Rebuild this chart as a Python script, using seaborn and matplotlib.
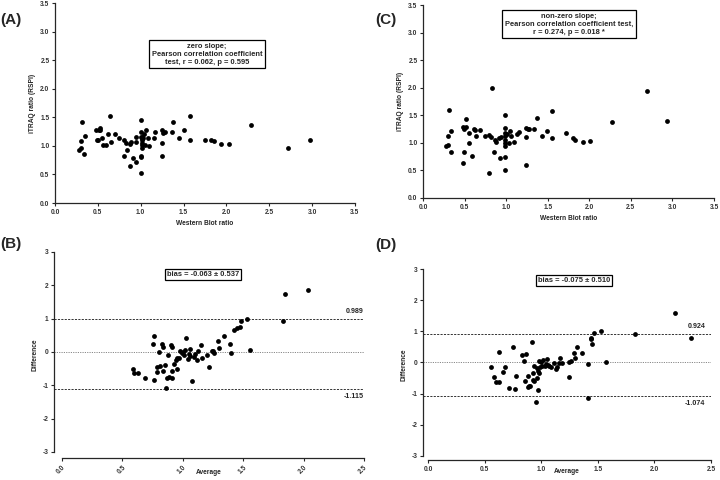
import matplotlib
matplotlib.use("Agg")
import matplotlib.pyplot as plt
import seaborn as sns
import pandas as pd

# ---------------- data ----------------
# Panel A: Western Blot ratio vs iTRAQ ratio (RSPI)
wb_a = [0.28, 0.30, 0.30, 0.31, 0.34, 0.35, 0.48, 0.49, 0.50, 0.51, 0.52, 0.53,
        0.55, 0.56, 0.60, 0.62, 0.64, 0.65, 0.70, 0.75, 0.80, 0.81, 0.83, 0.84,
        0.87, 0.88, 0.89, 0.91, 0.94, 0.94, 0.95, 1.00, 1.00, 1.00, 1.01, 1.01,
        1.01, 1.01, 1.01, 1.00, 1.00, 1.00, 1.02, 1.03, 1.04, 1.05, 1.06, 1.09,
        1.10, 1.15, 1.17, 1.25, 1.25, 1.25, 1.26, 1.28, 1.36, 1.38, 1.45, 1.51,
        1.57, 1.57, 1.75, 1.82, 1.85, 1.94, 2.03, 2.29, 2.72, 2.98]
itraq_a = [0.92, 0.96, 1.08, 1.41, 0.86, 1.18, 1.27, 1.11, 1.10, 1.27, 1.31, 1.27,
           1.14, 1.02, 1.02, 1.21, 1.52, 1.07, 1.21, 1.13, 0.82, 1.10, 1.05, 0.93,
           0.64, 1.04, 1.07, 0.78, 0.71, 1.15, 1.07, 1.45, 1.24, 1.16, 1.13, 1.10,
           1.05, 1.01, 0.97, 0.83, 0.81, 0.53, 1.16, 1.13, 1.21, 1.02, 1.27, 1.13,
           1.00, 1.13, 1.24, 1.27, 1.05, 0.83, 1.22, 1.24, 1.24, 1.42, 1.14, 1.27,
           1.53, 1.11, 1.10, 1.10, 1.09, 1.03, 1.03, 1.37, 0.97, 1.11]

# Panel C: Western Blot ratio vs iTRAQ ratio (RSPI)
wb_c = [0.28, 0.30, 0.30, 0.31, 0.34, 0.34, 0.48, 0.48, 0.49, 0.49, 0.52, 0.52,
        0.55, 0.55, 0.59, 0.61, 0.63, 0.64, 0.69, 0.75, 0.79, 0.79, 0.82, 0.83,
        0.85, 0.87, 0.88, 0.91, 0.93, 0.94, 0.99, 0.99, 0.99, 0.99, 0.99, 0.99,
        0.99, 0.99, 0.99, 1.01, 1.04, 1.05, 1.06, 1.09, 1.13, 1.16, 1.24, 1.24,
        1.24, 1.26, 1.28, 1.34, 1.37, 1.43, 1.49, 1.55, 1.55, 1.72, 1.80, 1.83,
        1.92, 2.01, 2.27, 2.69, 2.94]
itraq_c = [0.94, 0.97, 1.13, 1.60, 1.21, 0.83, 1.29, 0.63, 1.26, 0.83, 1.44, 1.29,
           1.18, 1.00, 0.77, 1.25, 1.23, 1.12, 1.23, 1.12, 1.15, 0.45, 1.10, 1.99,
           0.83, 1.06, 1.01, 1.09, 0.72, 1.10, 1.51, 1.27, 1.18, 1.12, 1.06, 1.00,
           0.95, 0.75, 0.50, 1.16, 1.00, 1.21, 1.13, 1.02, 1.16, 1.19, 1.27, 1.10,
           0.60, 1.25, 1.25, 1.25, 1.45, 1.13, 1.22, 1.57, 1.09, 1.18, 1.09, 1.05,
           1.01, 1.04, 1.38, 1.94, 1.40]

# Panel B: Bland-Altman (Average vs Difference)
avg_b = [0.59, 0.60, 0.63, 0.69, 0.75, 0.76, 0.76, 0.79, 0.79, 0.80, 0.81, 0.83,
         0.84, 0.84, 0.85, 0.86, 0.87, 0.88, 0.89, 0.90, 0.91, 0.91, 0.91, 0.93,
         0.94, 0.95, 0.95, 0.97, 0.98, 0.99, 1.00, 1.01, 1.02, 1.03, 1.04, 1.05,
         1.06, 1.06, 1.08, 1.09, 1.10, 1.12, 1.13, 1.15, 1.16, 1.20, 1.22, 1.24,
         1.25, 1.26, 1.29, 1.30, 1.34, 1.39, 1.40, 1.42, 1.45, 1.47, 1.48, 1.53,
         1.56, 1.83, 1.85, 2.04]
diff_b = [-0.50, -0.64, -0.64, -0.77, 0.23, 0.47, -0.83, -0.45, -0.61, -0.01, -0.43, 0.24,
          0.14, -0.57, -0.40, -1.08, -0.78, -0.08, -0.75, 0.20, 0.15, -0.58, -0.78, -0.36,
          -0.25, -0.19, -0.50, -0.17, 0.03, -0.02, 0.01, -0.09, 0.05, 0.43, -0.20, -0.07,
          0.09, -0.13, -0.88, -0.14, -0.05, -0.23, 0.02, 0.20, -0.19, -0.08, -0.44, 0.02,
          0.04, -0.03, 0.32, 0.12, 0.47, 0.25, -0.04, 0.65, 0.72, 0.76, 0.92, 1.00,
          0.05, 0.93, 1.75, 1.87]
limits_b = [0.989, -1.115]
bias_text_b = "bias = -0.063 \u00b1 0.537"

# Panel D: Bland-Altman (Average vs Difference)
avg_d = [0.56, 0.58, 0.60, 0.63, 0.63, 0.66, 0.68, 0.72, 0.75, 0.77, 0.78, 0.83,
         0.85, 0.86, 0.87, 0.88, 0.88, 0.89, 0.90, 0.92, 0.93, 0.93, 0.94, 0.94,
         0.95, 0.96, 0.96, 0.97, 0.98, 0.97, 0.98, 0.99, 1.00, 1.01, 1.02, 1.03,
         1.04, 1.05, 1.06, 1.07, 1.09, 1.11, 1.13, 1.14, 1.16, 1.17, 1.18, 1.25,
         1.25, 1.26, 1.29, 1.30, 1.32, 1.36, 1.41, 1.41, 1.44, 1.44, 1.45, 1.47,
         1.53, 1.57, 1.83, 2.18, 2.32]
diff_d = [-0.14, -0.48, -0.64, -0.64, 0.35, -0.32, -0.16, -0.81, 0.50, -0.85, -0.43, 0.24,
          0.05, -0.61, 0.27, -0.44, -0.78, -0.76, -0.74, 0.66, -0.57, -0.35, -0.60, -0.11,
          -1.26, -0.18, -0.50, -0.27, -0.33, -0.89, 0.04, -0.14, 0.02, -0.12, 0.08, -0.11,
          -0.05, 0.11, -0.08, -0.10, -0.16, -0.03, -0.21, -0.13, -0.02, 0.15, -0.01, 0.01,
          -0.48, 0.05, 0.32, 0.13, 0.50, 0.30, -0.04, -1.13, 0.74, 0.79, 0.58, 0.94,
          1.00, 0.02, 0.92, 1.59, 0.79]
limits_d = [0.924, -1.074]
bias_text_d = "bias = -0.075 \u00b1 0.510"

text_a = "zero slope;\nPearson correlation coefficient\ntest, r = 0.062, p = 0.595"
text_c = "non-zero slope;\nPearson correlation coefficient test,\nr = 0.274, p = 0.018 *"

scatter_ticks = [0.0, 0.5, 1.0, 1.5, 2.0, 2.5, 3.0, 3.5]
ba_xticks = [0.0, 0.5, 1.0, 1.5, 2.0, 2.5]
ba_yticks = [-3, -2, -1, 0, 1, 2, 3]

# ---------------- style ----------------
sns.set_style("ticks")
plt.rcParams["font.family"] = ["Liberation Sans", "DejaVu Sans"]
plt.rcParams["font.weight"] = "bold"
plt.rcParams["axes.linewidth"] = 0.9
plt.rcParams["xtick.major.size"] = 2.5
plt.rcParams["ytick.major.size"] = 2.5
plt.rcParams["xtick.major.width"] = 0.8
plt.rcParams["ytick.major.width"] = 0.8
plt.rcParams["xtick.major.pad"] = 1.5
plt.rcParams["ytick.major.pad"] = 1.5

W, H = 720, 480
fig = plt.figure(figsize=(7.2, 4.8), dpi=100)


def add_ax(left, top, right, bottom):
    return fig.add_axes([left / W, 1 - bottom / H, (right - left) / W, (bottom - top) / H])


def ftext(x, y, s, **kw):
    fig.text(x / W, 1 - y / H, s, **kw)


TICK_FS = 4.8
LAB_FS = 4.8
BOX_FS = 5.4
LIM_FS = 5.1
DOT = 12
box_style = dict(boxstyle="square,pad=0.35", facecolor="white", edgecolor="black", linewidth=0.9)


def scatter_panel(ax, x, y):
    df = pd.DataFrame({"x": x, "y": y})
    sns.scatterplot(data=df, x="x", y="y", ax=ax, color="black", s=DOT,
                    edgecolor="black", linewidth=0, legend=False, clip_on=False)
    ax.set_xlim(0, 3.5)
    ax.set_ylim(0, 3.5)
    ax.set_xticks(scatter_ticks)
    ax.set_yticks(scatter_ticks)
    ax.set_xticklabels([f"{t:.1f}" for t in scatter_ticks], fontsize=TICK_FS, color="#333333")
    ax.set_yticklabels([f"{t:.1f}" for t in scatter_ticks], fontsize=TICK_FS, color="#333333")
    ax.set_xlabel("Western Blot ratio", fontsize=LAB_FS, fontweight="bold", labelpad=3)
    ax.set_ylabel("iTRAQ ratio (RSPI)", fontsize=LAB_FS, fontweight="bold", labelpad=3)
    sns.despine(ax=ax)


def ba_panel(ax, x, y, limits, xpad, ypad, rotate, xlabel_y):
    df = pd.DataFrame({"Average": x, "Difference": y})
    ax.axhline(0, color="#888888", linestyle=(0, (1.2, 1.2)), linewidth=0.7, zorder=1)
    for lim in limits:
        ax.axhline(lim, color="#333333", linestyle=(0, (2.2, 1.3)), linewidth=0.7, zorder=1)
    sns.scatterplot(data=df, x="Average", y="Difference", ax=ax, color="black", s=DOT,
                    edgecolor="black", linewidth=0, legend=False, zorder=3)
    ax.set_xlim(-xpad, 2.5)
    ax.set_ylim(-3 - ypad, 3)
    ax.set_xticks(ba_xticks)
    ax.set_yticks(ba_yticks)
    if rotate:
        ax.set_xticklabels([f"{t:.1f}" for t in ba_xticks], fontsize=TICK_FS, color="#333333",
                           rotation=45, ha="right", va="top", rotation_mode="anchor")
    else:
        ax.set_xticklabels([f"{t:.1f}" for t in ba_xticks], fontsize=TICK_FS, color="#333333")
    ax.set_yticklabels([str(t) for t in ba_yticks], fontsize=TICK_FS, color="#333333")
    ax.set_xlabel("Average", fontsize=LAB_FS, fontweight="bold")
    ax.xaxis.set_label_coords(0.5, xlabel_y)
    ax.set_ylabel("Difference", fontsize=LAB_FS, fontweight="bold", labelpad=3)
    sns.despine(ax=ax)
    ax.spines["left"].set_bounds(-3, 3)
    ax.spines["bottom"].set_bounds(0, 2.5)


# Panel A
axA = add_ax(55, 3, 355, 203)
scatter_panel(axA, wb_a, itraq_a)
# Panel C
axC = add_ax(423, 5, 714, 198)
scatter_panel(axC, wb_c, itraq_c)
# Panel B
axB = add_ax(54, 252, 364, 458)
ba_panel(axB, avg_b, diff_b, limits_b, xpad=0.066, ypad=0.18, rotate=True, xlabel_y=-0.052)
# Panel D
axD = add_ax(423, 269, 711, 460)
ba_panel(axD, avg_d, diff_d, limits_d, xpad=0.044, ypad=0.13, rotate=False, xlabel_y=-0.04)

# limit labels
axB.text(2.5, limits_b[0] + 0.12, f"{limits_b[0]:.3f}", fontsize=LIM_FS, fontweight="bold",
         ha="right", va="bottom", clip_on=False)
axB.text(2.5, limits_b[1] - 0.12, f"{limits_b[1]:.3f}", fontsize=LIM_FS, fontweight="bold",
         ha="right", va="top", clip_on=False)
axD.text(2.45, limits_d[0] + 0.12, f"{limits_d[0]:.3f}", fontsize=LIM_FS, fontweight="bold",
         ha="right", va="bottom", clip_on=False)
axD.text(2.45, limits_d[1] - 0.12, f"{limits_d[1]:.3f}", fontsize=LIM_FS, fontweight="bold",
         ha="right", va="top", clip_on=False)

# annotation boxes
ftext(207, 54, text_a, fontsize=BOX_FS, fontweight="bold", ha="center", va="center",
      linespacing=1.2, bbox=box_style)
ftext(569, 24, text_c, fontsize=BOX_FS, fontweight="bold", ha="center", va="center",
      linespacing=1.2, bbox=box_style)
ftext(203, 274.5, bias_text_b, fontsize=BOX_FS, fontweight="bold", ha="center", va="center",
      bbox=dict(boxstyle="square,pad=0.3", facecolor="white", edgecolor="black", linewidth=0.9))
ftext(574, 280.5, bias_text_d, fontsize=BOX_FS, fontweight="bold", ha="center", va="center",
      bbox=dict(boxstyle="square,pad=0.3", facecolor="white", edgecolor="black", linewidth=0.9))

# panel letters
for lab, x, y in [("(A)", 0, 20), ("(C)", 375, 20), ("(B)", 0, 244), ("(D)", 375, 245)]:
    ftext(x, y, lab, fontsize=11, fontweight="bold", ha="left", va="center")

fig.savefig("out.png", dpi=100)
